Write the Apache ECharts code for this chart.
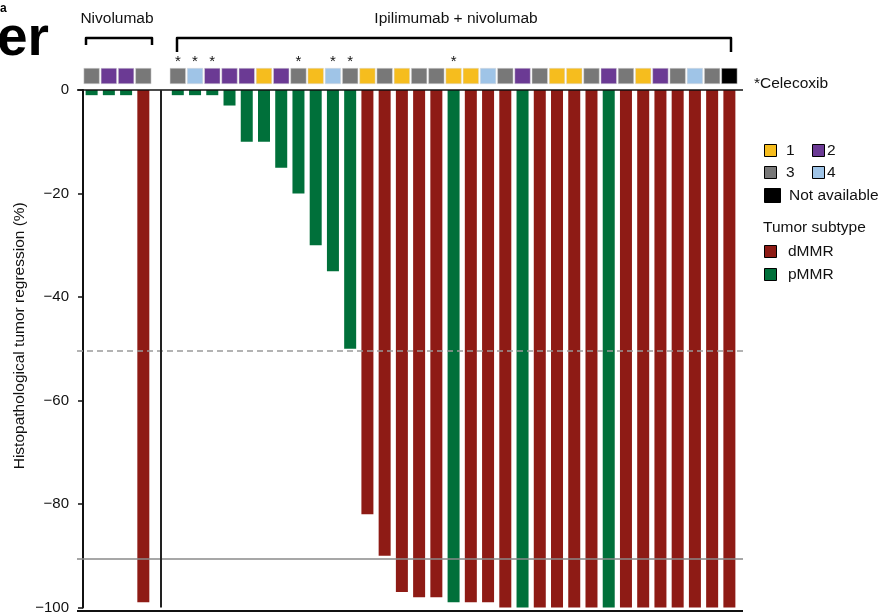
<!DOCTYPE html>
<html>
<head>
<meta charset="utf-8">
<script src="https://cdn.jsdelivr.net/npm/echarts@6/dist/echarts.min.js"></script>
<style>html,body{margin:0;padding:0;background:#fff}#c{width:885px;height:615px}</style>
</head>
<body>
<div id="c"></div>
<script>
// ---- data ----
const nivoRegression = [-1, -1, -1, -99];
const nivoSubtype = ['p', 'p', 'p', 'd'];
const nivoCMS = ['3', '2', '2', '3'];
const nivoCelecoxib = [0, 0, 0, 0];

const ipiRegression = [-1, -1, -1, -3, -10, -10, -15, -20, -30, -35, -50, -82, -90, -97, -98, -98, -99, -99, -99,
  -100, -100, -100, -100, -100, -100, -100, -100, -100, -100, -100, -100, -100, -100];
const ipiSubtype = ['p','p','p','p','p','p','p','p','p','p','p','d','d','d','d','d','p','d','d','d','p','d','d','d','d','p','d','d','d','d','d','d','d'];
const ipiCMS = ['3','4','2','2','2','1','2','3','1','4','3','1','3','1','3','3','1','1','4','3','2','3','1','1','3','2','3','1','2','3','4','3','NA'];
const ipiCelecoxib = [1,1,1,0,0,0,0,1,0,1,1,0,0,0,0,0,1,0,0,0,0,0,0,0,0,0,0,0,0,0,0,0,0];

const yTicks = [0, -20, -40, -60, -80, -100];
const refLines = [-50, -90];
const groupLabels = ['Nivolumab', 'Ipilimumab + nivolumab'];
const cmsLegend = ['1', '2', '3', '4', 'Not available'];
const subtypeLegend = ['dMMR', 'pMMR'];

// ---- build ----
const categories = [];
const regression = [], subtype = [], cms = [], celecoxib = [];
nivoRegression.forEach((v, i) => { categories.push('N' + (i + 1)); regression.push(v); subtype.push(nivoSubtype[i]); cms.push(nivoCMS[i]); celecoxib.push(nivoCelecoxib[i]); });
categories.push('gap'); regression.push('-'); subtype.push(null); cms.push(null); celecoxib.push(0);
ipiRegression.forEach((v, i) => { categories.push('I' + (i + 1)); regression.push(v); subtype.push(ipiSubtype[i]); cms.push(ipiCMS[i]); celecoxib.push(ipiCelecoxib[i]); });

const subtypeColor = { d: '#8e1b15', p: '#00703a' };
const cmsColor = { '1': '#f6bd1e', '2': '#6b3a94', '3': '#787878', '4': '#9fc4e7', 'NA': '#000000' };
const FONT = '"Liberation Sans", Arial, Helvetica, sans-serif';

const squareData = cms.map((c, i) => c === null ? '-' : 1);

const chart = echarts.init(document.getElementById('c'), null, { renderer: 'canvas' });

const legendGraphics = [];
function legBox(x, y, w, h, color) {
  legendGraphics.push({ type: 'rect', shape: { x: x, y: y, width: w, height: h }, style: { fill: color, stroke: '#000', lineWidth: 1 } });
}
function legText(x, y, t) {
  legendGraphics.push({ type: 'text', x: x, y: y, style: { text: t, font: '15.5px ' + FONT, fill: '#111', textVerticalAlign: 'middle', verticalAlign: 'middle' } });
}
legBox(764.5, 144.5, 12, 12, cmsColor['1']); legText(786, 151, cmsLegend[0]);
legBox(812.5, 144.5, 12, 12, cmsColor['2']); legText(827, 151, cmsLegend[1]);
legBox(764.5, 166.5, 12, 12, cmsColor['3']); legText(786, 173, cmsLegend[2]);
legBox(812.5, 166.5, 12, 12, cmsColor['4']); legText(827, 173, cmsLegend[3]);
legBox(764.5, 188.5, 16, 14, cmsColor['NA']); legText(789, 196, cmsLegend[4]);
legText(763, 228, 'Tumor subtype');
legBox(764.5, 245.5, 12, 12, subtypeColor.d); legText(788, 252, subtypeLegend[0]);
legBox(764.5, 268.5, 12, 12, subtypeColor.p); legText(788, 275, subtypeLegend[1]);

const option = {
  animation: false,
  backgroundColor: '#fff',
  textStyle: { fontFamily: FONT },
  grid: [
    { left: 83, top: 90, width: 655, height: 521 },   // main bars
    { left: 83, top: 68, width: 655, height: 16 },    // CMS squares
    { left: 77, top: 90, width: 666, height: 521 }    // reference lines
  ],
  xAxis: [
    { type: 'category', gridIndex: 0, data: categories, boundaryGap: true,
      axisLine: { show: false }, axisTick: { show: false }, axisLabel: { show: false }, splitLine: { show: false } },
    { type: 'category', gridIndex: 1, data: categories, boundaryGap: true, show: false },
    { type: 'value', gridIndex: 2, min: 0, max: 1, show: false }
  ],
  yAxis: [
    { type: 'value', gridIndex: 0, min: -100, max: 0, interval: 20,
      name: 'Histopathological tumor regression (%)', nameLocation: 'middle', nameGap: 55,
      nameMoveOverlap: false,
      nameTextStyle: { fontSize: 15.5, color: '#111', fontFamily: FONT, padding: [0, 0, 0, 26] },
      axisLine: { show: true, lineStyle: { color: '#111', width: 2 } },
      axisTick: { show: true, length: 5, lineStyle: { color: '#111', width: 1.5 } },
      axisLabel: { fontSize: 15, color: '#111', margin: 14, fontFamily: FONT,
        formatter: v => v < 0 ? '\u2212' + Math.abs(v) : String(v) },
      splitLine: { show: false } },
    { type: 'value', gridIndex: 1, min: 0, max: 1, show: false },
    { type: 'value', gridIndex: 2, min: -100, max: 0, show: false }
  ],
  graphic: [
    { type: 'text', x: 0, y: 3, style: { text: 'a', font: 'bold 12px ' + FONT, fill: '#000' } },
    { type: 'text', x: -3, y: 12, style: { text: 'er', font: 'bold 55px ' + FONT, fill: '#000' } },
    { type: 'text', x: 117, y: 19, style: { text: groupLabels[0], font: '15.5px ' + FONT, fill: '#111', align: 'center', verticalAlign: 'middle' } },
    { type: 'text', x: 456, y: 19, style: { text: groupLabels[1], font: '15.5px ' + FONT, fill: '#111', align: 'center', verticalAlign: 'middle' } },
    { type: 'polyline', shape: { points: [[86, 45], [86, 38], [152, 38], [152, 45]] }, style: { stroke: '#000', lineWidth: 2.5, fill: null, lineJoin: 'round' } },
    { type: 'polyline', shape: { points: [[177, 52], [177, 38], [731, 38], [731, 52]] }, style: { stroke: '#000', lineWidth: 2.5, fill: null, lineJoin: 'round' } },
    { type: 'text', x: 754, y: 84, style: { text: '*Celecoxib', font: '15.5px ' + FONT, fill: '#111', verticalAlign: 'middle' } }
  ].concat(legendGraphics),
  series: [
    { type: 'line', xAxisIndex: 2, yAxisIndex: 2, data: [], z: 1, silent: true,
      markLine: { symbol: 'none', silent: true, label: { show: false }, animation: false,
        data: [
          { yAxis: 0, lineStyle: { color: '#111', width: 1.5, type: 'solid' } },
          { yAxis: refLines[0], lineStyle: { color: '#9a9a9a', width: 1.5, type: [6, 4] } },
          { yAxis: refLines[1], lineStyle: { color: '#8a8a8a', width: 1.5, type: 'solid' } },
          { yAxis: -100, lineStyle: { color: '#111', width: 2, type: 'solid' } }
        ] } },
    { type: 'bar', xAxisIndex: 0, yAxisIndex: 0, data: regression, barWidth: 12, z: 3,
      itemStyle: { color: p => subtypeColor[subtype[p.dataIndex]] || '#000' },
      markLine: { symbol: 'none', silent: true, label: { show: false },
        lineStyle: { color: '#222', width: 2, type: 'solid' },
        data: [{ xAxis: 'gap' }] } },
    { type: 'bar', xAxisIndex: 1, yAxisIndex: 1, data: squareData, barWidth: 16, z: 3,
      itemStyle: { color: p => cmsColor[cms[p.dataIndex]] || '#fff', borderColor: '#d8d8d8', borderWidth: 0.5 },
      label: { show: true, position: 'top', distance: -1, fontSize: 15, color: '#111', fontFamily: FONT,
        formatter: p => celecoxib[p.dataIndex] ? '*' : '' } }
  ]
};
chart.setOption(option);
</script>
</body>
</html>
